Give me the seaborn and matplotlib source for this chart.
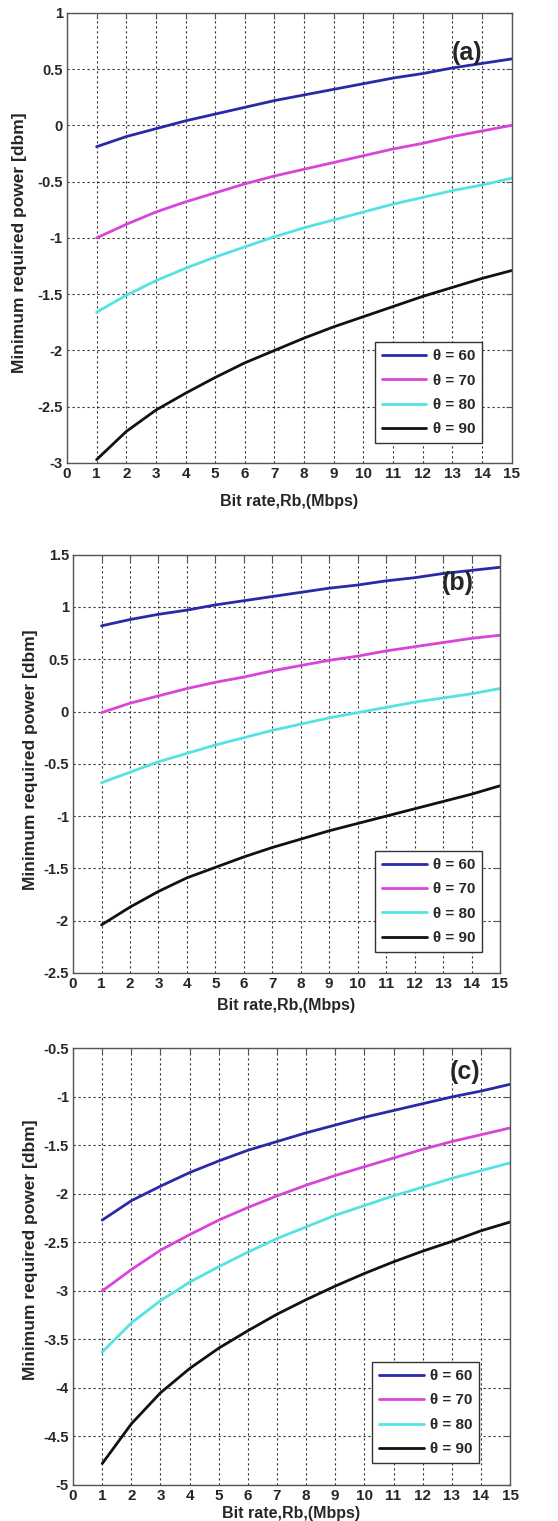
import matplotlib
matplotlib.use("Agg")
import matplotlib.pyplot as plt
import numpy as np
import pandas as pd
import seaborn as sns

# bit rate (Mbps)
bit_rate = list(range(1, 16))
angles = ["\u03b8 = 60", "\u03b8 = 70", "\u03b8 = 80", "\u03b8 = 90"]

# panel (a)
a_60 = [-0.19, -0.10, -0.03, 0.04, 0.10, 0.16, 0.22, 0.27, 0.32, 0.37, 0.42, 0.46, 0.51, 0.55, 0.59]
a_70 = [-1.00, -0.88, -0.77, -0.68, -0.60, -0.52, -0.45, -0.39, -0.33, -0.27, -0.21, -0.16, -0.10, -0.05, 0.00]
a_80 = [-1.66, -1.51, -1.38, -1.27, -1.17, -1.08, -0.99, -0.91, -0.84, -0.77, -0.70, -0.64, -0.58, -0.53, -0.47]
a_90 = [-2.97, -2.72, -2.53, -2.38, -2.24, -2.11, -2.00, -1.89, -1.79, -1.70, -1.61, -1.52, -1.44, -1.36, -1.29]

# panel (b)
b_60 = [0.82, 0.88, 0.93, 0.97, 1.02, 1.06, 1.10, 1.14, 1.18, 1.21, 1.25, 1.28, 1.32, 1.35, 1.38]
b_70 = [-0.01, 0.08, 0.15, 0.22, 0.28, 0.33, 0.39, 0.44, 0.49, 0.53, 0.58, 0.62, 0.66, 0.70, 0.73]
b_80 = [-0.68, -0.58, -0.48, -0.40, -0.32, -0.25, -0.18, -0.12, -0.06, -0.01, 0.04, 0.09, 0.13, 0.17, 0.22]
b_90 = [-2.04, -1.87, -1.72, -1.59, -1.49, -1.39, -1.30, -1.22, -1.14, -1.07, -1.00, -0.93, -0.86, -0.79, -0.71]

# panel (c)
c_60 = [-2.27, -2.07, -1.92, -1.78, -1.66, -1.55, -1.46, -1.37, -1.29, -1.21, -1.14, -1.07, -1.00, -0.94, -0.87]
c_70 = [-3.00, -2.78, -2.58, -2.42, -2.27, -2.14, -2.02, -1.91, -1.81, -1.72, -1.63, -1.54, -1.46, -1.39, -1.32]
c_80 = [-3.63, -3.33, -3.10, -2.91, -2.75, -2.60, -2.46, -2.34, -2.22, -2.12, -2.02, -1.93, -1.84, -1.76, -1.68]
c_90 = [-4.78, -4.37, -4.05, -3.80, -3.59, -3.41, -3.24, -3.09, -2.95, -2.82, -2.70, -2.59, -2.49, -2.38, -2.29]

y_ticks_a = [-3, -2.5, -2, -1.5, -1, -0.5, 0, 0.5, 1]
y_ticks_b = [-2.5, -2, -1.5, -1, -0.5, 0, 0.5, 1, 1.5]
y_ticks_c = [-5, -4.5, -4, -3.5, -3, -2.5, -2, -1.5, -1, -0.5]
x_ticks = list(range(0, 16))

colors = ["#2a2aa8", "#d845d8", "#55e2e2", "#111111"]

sns.set_style("white")
plt.rcParams['font.family'] = ['Liberation Sans', 'DejaVu Sans']


def make_frame(series):
    rows = []
    for name, vals in zip(angles, series):
        for x, y in zip(bit_rate, vals):
            rows.append({"rate": x, "power": y, "angle": name})
    return pd.DataFrame(rows)


def fmt(v):
    return "%g" % v


def draw_panel(ax, series, yticks, tag, tag_pos, leg_anchor, ylabel_pos, xlabel_pad):
    df = make_frame(series)
    sns.lineplot(data=df, x="rate", y="power", hue="angle", palette=colors,
                 linewidth=2, ax=ax, legend=False)
    ax.set_xlim(0, 15)
    ax.set_ylim(yticks[0], yticks[-1])
    ax.set_xticks(x_ticks)
    ax.set_yticks(yticks)
    ax.set_xticklabels([fmt(v) for v in x_ticks], fontsize=11, fontweight="bold")
    ax.set_yticklabels([fmt(v) for v in yticks], fontsize=10.5, fontweight="bold")
    ax.grid(True, color="#333333", linestyle=(0, (2, 2.5)), linewidth=0.8)
    for s in ax.spines.values():
        s.set_color("#555555")
        s.set_linewidth(1.0)
    ax.tick_params(direction="in", length=4, width=0.8, color="#555555",
                   top=True, right=True, pad=3)
    ax.set_xlabel("Bit rate,Rb,(Mbps)", fontsize=11.5, fontweight="bold",
                  labelpad=xlabel_pad)
    ax.set_ylabel("Minimum required power [dbm]", fontsize=12.5, fontweight="bold")
    ax.yaxis.set_label_coords(*ylabel_pos)
    ax.text(tag_pos[0], tag_pos[1], tag, transform=ax.transAxes, fontsize=18,
            fontweight="bold", ha="center", va="center")
    handles = [plt.Line2D([], [], color=c, linewidth=2) for c in colors]
    leg = ax.legend(handles, angles, loc="lower right", bbox_to_anchor=leg_anchor,
                    fancybox=False, framealpha=1, edgecolor="#333333",
                    prop={"size": 11, "weight": "bold"}, handlelength=2.9,
                    handletextpad=0.4, borderpad=0.45, labelspacing=0.68,
                    borderaxespad=0)
    leg.get_frame().set_linewidth(1.0)


fig = plt.figure(figsize=(5.58, 15.21), dpi=100)
ax_a = fig.add_axes([0.120, 0.6956, 0.797, 0.296])
ax_b = fig.add_axes([0.131, 0.3603, 0.765, 0.275])
ax_c = fig.add_axes([0.131, 0.0237, 0.783, 0.287])

draw_panel(ax_a, [a_60, a_70, a_80, a_90], y_ticks_a, "(a)", (0.9, 0.91),
           (0.933, 0.044), (-0.090, 0.49), 9)
draw_panel(ax_b, [b_60, b_70, b_80, b_90], y_ticks_b, "(b)", (0.90, 0.933),
           (0.958, 0.05), (-0.082, 0.51), 5)
draw_panel(ax_c, [c_60, c_70, c_80, c_90], y_ticks_c, "(c)", (0.897, 0.945),
           (0.929, 0.05), (-0.080, 0.54), 2)

fig.savefig("out.png", dpi=100)
